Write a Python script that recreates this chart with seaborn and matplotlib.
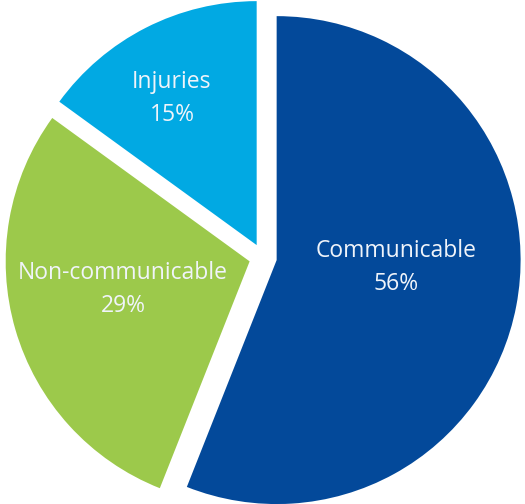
import matplotlib
matplotlib.use("Agg")
import matplotlib.pyplot as plt
import seaborn as sns

# Share of deaths by cause group
categories = ["Communicable", "Non-communicable", "Injuries"]
shares = [56, 29, 15]
slice_colors = ["#03499A", "#9CC94B", "#01A9E3"]

sns.set_theme(style="white")
plt.rcParams["font.family"] = ["Open Sans", "DejaVu Sans"]

fig = plt.figure(figsize=(5.25, 5.04), dpi=100)
ax = fig.add_axes([0, 0, 1, 1])

wedges, _ = ax.pie(
    shares,
    colors=sns.color_palette(slice_colors),
    startangle=90,
    counterclock=False,
    explode=[0.057] * len(shares),
    radius=1.0,
    wedgeprops=dict(linewidth=0),
)

# Label anchor for each slice (centre of the two-line text block)
label_pos = [(0.545, -0.043), (-0.574, -0.133), (-0.373, 0.650)]
for name, val, (x, y) in zip(categories, shares, label_pos):
    ax.text(x, y, f"{name}\n{val}%", ha="center", va="center",
            color="#F0F4FA", fontsize=16.5, linespacing=1.5)

ax.set_xlim(-1.078, 1.074)
ax.set_ylim(-1.010, 1.055)
ax.set_aspect("equal")
ax.axis("off")

fig.savefig("out.png", dpi=100, facecolor="white")
